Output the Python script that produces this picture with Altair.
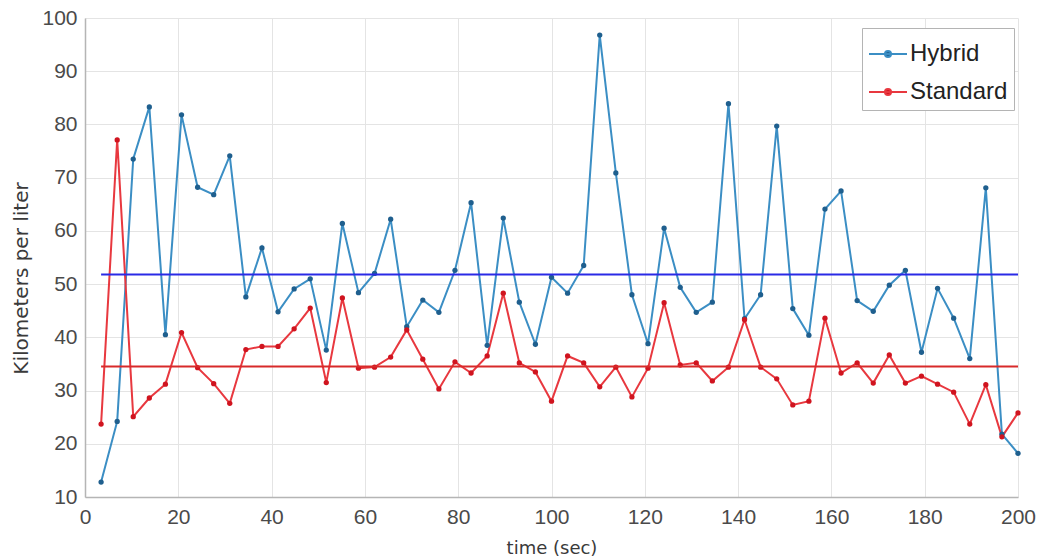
import altair as alt
import pandas as pd

# ---- data ----
time_sec = [3.45, 6.90, 10.34, 13.79, 17.24, 20.69, 24.14, 27.59, 31.03, 34.48,
            37.93, 41.38, 44.83, 48.28, 51.72, 55.17, 58.62, 62.07, 65.52, 68.97,
            72.41, 75.86, 79.31, 82.76, 86.21, 89.66, 93.10, 96.55, 100.0, 103.45,
            106.90, 110.34, 113.79, 117.24, 120.69, 124.14, 127.59, 131.03, 134.48, 137.93,
            141.38, 144.83, 148.28, 151.72, 155.17, 158.62, 162.07, 165.52, 168.97, 172.41,
            175.86, 179.31, 182.76, 186.21, 189.66, 193.10, 196.55, 200.0]

hybrid = [12.8, 24.2, 73.5, 83.3, 40.5, 81.8, 68.2, 66.8, 74.1, 47.6,
          56.8, 44.8, 49.1, 51.0, 37.6, 61.4, 48.4, 52.0, 62.2, 42.0,
          47.0, 44.7, 52.6, 65.3, 38.5, 62.4, 46.6, 38.7, 51.3, 48.3,
          53.5, 96.8, 70.9, 48.0, 38.8, 60.5, 49.4, 44.7, 46.6, 83.9,
          43.5, 48.0, 79.7, 45.4, 40.4, 64.1, 67.5, 46.9, 44.9, 49.8,
          52.6, 37.2, 49.2, 43.6, 36.0, 68.1, 21.8, 18.2]

standard = [23.7, 77.1, 25.1, 28.6, 31.2, 40.9, 34.3, 31.3, 27.6, 37.7,
            38.3, 38.3, 41.6, 45.5, 31.5, 47.4, 34.2, 34.4, 36.3, 41.4,
            35.9, 30.3, 35.4, 33.3, 36.5, 48.3, 35.2, 33.5, 28.0, 36.5,
            35.2, 30.7, 34.4, 28.8, 34.2, 46.5, 34.8, 35.2, 31.8, 34.4,
            43.3, 34.4, 32.2, 27.3, 28.0, 43.6, 33.3, 35.2, 31.4, 36.7,
            31.4, 32.7, 31.2, 29.7, 23.7, 31.1, 21.3, 25.8]

series_names = ["Hybrid", "Standard"]
mean_values = [51.8, 34.5]

line_colors = ["#3b8ec4", "#e8383f"]
marker_colors = ["#1f5f8e", "#d0141f"]
mean_colors = ["#2a2ae6", "#d82a2a"]

x_ticks = [0, 20, 40, 60, 80, 100, 120, 140, 160, 180, 200]
y_ticks = [10, 20, 30, 40, 50, 60, 70, 80, 90, 100]

# ---- tables ----
df = pd.concat([
    pd.DataFrame({"t": time_sec, "v": hybrid, "series": series_names[0]}),
    pd.DataFrame({"t": time_sec, "v": standard, "series": series_names[1]}),
], ignore_index=True)

means = pd.DataFrame({
    "series": series_names,
    "mean": mean_values,
    "start": [time_sec[0]] * 2,
    "end": [time_sec[-1]] * 2,
})

FONT = "Liberation Sans"
LABEL_KW = dict(labelFont=FONT, labelFontSize=21, labelColor="#4a4a4a",
                labelFlush=False, labelOverlap=False,
                titleColor="#3a3a3a", titleFontWeight="normal",
                gridColor="#e4e4e4", gridWidth=1,
                domainColor="#b5b5b5", domainWidth=1.5,
                ticks=False, tickSize=0)

x_enc = alt.X("t:Q", scale=alt.Scale(domain=[0, 200], nice=False),
              axis=alt.Axis(values=x_ticks, title="time (sec)", format="d",
                            titleFont="DejaVu Sans", titleFontSize=18,
                            titleBaseline="middle", titleY=51,
                            labelPadding=9, **LABEL_KW))
y_enc = alt.Y("v:Q", scale=alt.Scale(domain=[10, 100], nice=False),
              axis=alt.Axis(values=y_ticks, title="Kilometers per liter",
                            titleFont="DejaVu Sans", titleFontSize=20,
                            titleBaseline="middle", titleX=-64, titleY=260,
                            titleAngle=270, labelPadding=8, **LABEL_KW))

color_enc = alt.Color(
    "series:N",
    scale=alt.Scale(domain=series_names, range=line_colors),
    legend=alt.Legend(
        title=None, orient="none", legendX=777, legendY=10,
        fillColor="white", strokeColor="#b4b4b4", padding=6,
        labelFont=FONT, labelFontSize=24, labelColor="#222222",
        labelOffset=2, rowPadding=6,
        symbolType="M-1,0H1M-0.16,0A0.16,0.16 0 1,0 0.16,0A0.16,0.16 0 1,0 -0.16,0",
        symbolSize=1444, symbolStrokeWidth=2,
    ),
)

lines = alt.Chart(df).mark_line(strokeWidth=2).encode(
    x=x_enc, y=y_enc, color=color_enc, order="t:Q"
)

points = alt.Chart(df).mark_circle(size=28, opacity=1).encode(
    x="t:Q", y="v:Q",
    color=alt.Color("series:N", scale=alt.Scale(domain=series_names, range=line_colors), legend=None),
    fill=alt.Fill("series:N", scale=alt.Scale(domain=series_names, range=marker_colors), legend=None),
)

rules = []
for name, col in zip(series_names, mean_colors):
    rules.append(
        alt.Chart(means).transform_filter(alt.datum.series == name)
        .mark_rule(color=col, strokeWidth=2)
        .encode(x="start:Q", x2="end:Q", y="mean:Q")
    )

chart = alt.layer(lines, points, *rules).properties(
    width=933, height=479,
    background="white",
    autosize=alt.AutoSizeParams(type="none"),
    padding={"left": 85, "top": 18, "right": 24, "bottom": 61},
).configure_view(stroke=None)

chart.save("out.html", embed_options={"renderer": "svg", "actions": False})
